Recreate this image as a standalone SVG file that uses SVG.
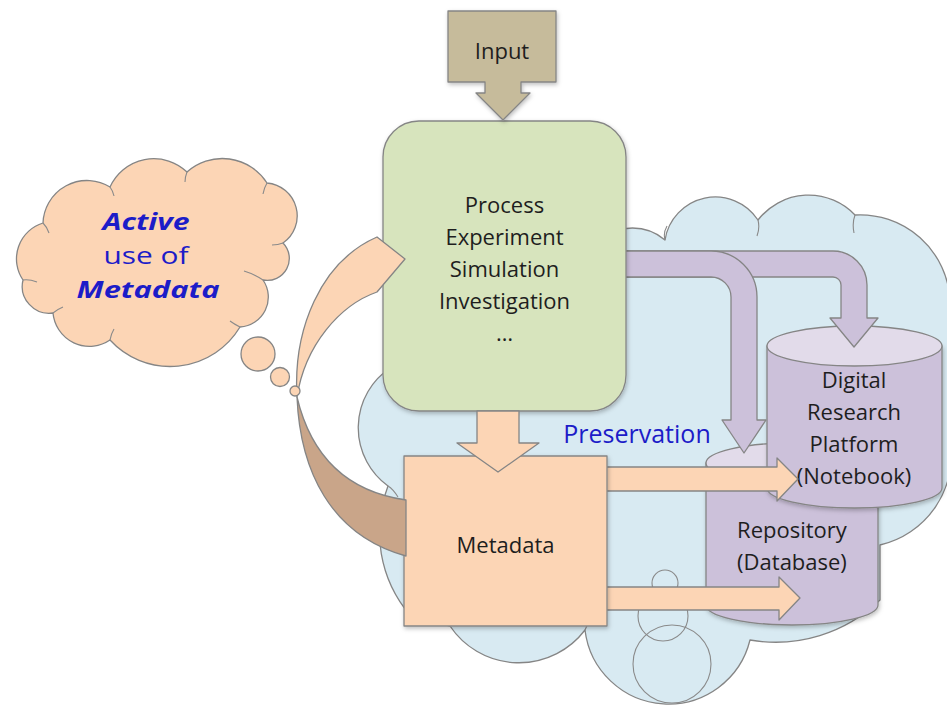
<svg xmlns="http://www.w3.org/2000/svg" width="947" height="707" viewBox="0 0 947 707">
<defs>
  <filter id="sh" x="-10%" y="-10%" width="130%" height="130%">
    <feDropShadow dx="1" dy="2" stdDeviation="2" flood-color="#000000" flood-opacity="0.25"/>
  </filter>
</defs>
<style>
  .ln { stroke:#858585; stroke-width:1.3; stroke-linejoin:round; }
  .thin { fill:none; stroke:#8a8a8a; stroke-width:1.1; }
  .t { font-family:"Open Sans","Liberation Sans",sans-serif; font-size:22px; fill:#1e1e1e; text-anchor:middle; }
  .blue { fill:#1c1cc8; }
  .peach { fill:#fcd5b5; }
  .purple { fill:#ccc1da; }
  .ptop { fill:#e2dbea; }
  .th { font-size:24px; }
  .bi { font-weight:bold; font-style:italic; }
</style>
<rect width="947" height="707" fill="#ffffff"/>

<g id="preservation-cloud">
  <path class="ln" fill="#d8eaf2" d="M 390,368 A 72 72 0 0 0 388,486 A 128 128 0 0 0 410,615 L 450,626 A 83 83 0 0 0 585,630 A 84 84 0 0 0 750,640 A 150 150 0 0 0 880,600 L 880,545 A 92 92 0 0 0 950,440 A 90 90 0 0 0 950,300 A 90 90 0 0 0 855,215 A 64 64 0 0 0 758,220 A 51 51 0 0 0 665,240 A 50 50 0 0 0 600,240 Z"/>
  <path class="thin" d="M 665,240 q -2,-7 2,-14 M 758,220 q 2,8 -1,16 M 855,215 q -3,8 -1,18 M 388,486 q 5,3 10,11 M 585,630 q 2,-6 6,-10"/>
  <text class="t blue" x="637" y="443" style="font-size:25px">Preservation</text>
</g>

<g id="circles" class="thin">
  <circle cx="665" cy="583" r="13"/>
  <circle cx="663" cy="616" r="25"/>
  <circle cx="672" cy="664" r="39"/>
</g>

<g id="repository">
  <path class="ln purple" filter="url(#sh)" d="M 706,463 L 706,605 A 86 20 0 0 0 878,605 L 878,463 Z"/>
  <ellipse class="ln ptop" cx="792" cy="463" rx="86" ry="20"/>
  <text class="t" x="792" y="538">Repository</text>
  <text class="t" x="792" y="570">(Database)</text>
</g>

<g id="digital-platform">
  <path class="ln purple" filter="url(#sh)" d="M 767,346 L 767,488 A 87.5 20 0 0 0 942,488 L 942,346 Z"/>
  <ellipse class="ln ptop" cx="854.5" cy="346" rx="87.5" ry="20"/>
  <text class="t" x="854" y="388">Digital</text>
  <text class="t" x="854" y="420">Research</text>
  <text class="t" x="854" y="452">Platform</text>
  <text class="t" x="854" y="484">(Notebook)</text>
</g>

<g id="connectors">
  <path class="ln purple" d="M 615,251 L 833,251 A 34 34 0 0 1 867,285 L 867,318 L 878,318 L 854,347 L 830,318 L 841,318 L 841,285 A 8 8 0 0 0 833,277 L 615,277 Z"/>
  <path class="ln purple" d="M 615,251 L 711,251 A 46 46 0 0 1 757,297 L 757,420 L 766,420 L 744,453 L 722,420 L 731,420 L 731,297 A 20 20 0 0 0 711,277 L 615,277 Z"/>
  <path class="ln peach" d="M 606,467 L 777,467 L 777,458 L 798,479 L 777,501 L 777,491 L 606,491 Z"/>
  <path class="ln peach" d="M 606,587 L 779,587 L 779,577 L 800,598 L 779,620 L 779,610 L 606,610 Z"/>
</g>

<g id="process">
  <rect class="ln" fill="#d7e4bd" filter="url(#sh)" x="383" y="121" width="243" height="290" rx="36" ry="36"/>
  <text class="t" x="504.5" y="213">Process</text>
  <text class="t" x="504.5" y="245">Experiment</text>
  <text class="t" x="504.5" y="277">Simulation</text>
  <text class="t" x="504.5" y="309">Investigation</text>
  <text class="t" x="504.5" y="341">…</text>
</g>

<g id="input">
  <path class="ln" fill="#c6bb9b" filter="url(#sh)" d="M 448,11 L 556,11 L 556,82 L 521,82 L 521,93 L 530,93 L 503,120 L 476,93 L 485,93 L 485,82 L 448,82 Z"/>
  <text class="t" x="502" y="59">Input</text>
</g>

<g id="metadata">
  <rect class="ln peach" filter="url(#sh)" x="404" y="456" width="203" height="170"/>
  <text class="t" x="505.5" y="553">Metadata</text>
</g>

<g id="process-to-metadata">
  <path class="ln peach" d="M 477,411 L 519,411 L 519,443 L 539,443 L 498,472 L 457,443 L 477,443 Z"/>
</g>

<g id="feedback-arrow">
  <path class="ln" fill="#c9a589" d="M 297,397 C 300,470 330,535 406,556 L 406,500 C 350,492 312,460 297,397 Z"/>
  <path class="ln peach" d="M 297,397 C 293,330 320,262 377,237 L 405,259 L 377,292 C 340,305 305,345 297,397 Z"/>
</g>

<g id="thought-cloud">
  <path class="ln peach" d="M 23,280 A 37.5 37.5 0 0 1 43,223 A 44 44 0 0 1 110,187 A 48 48 0 0 1 187,172 A 53 53 0 0 1 267,183 A 33 33 0 0 1 283,243 A 22 22 0 0 1 263,280 A 30 30 0 0 1 240,327 A 81.5 81.5 0 0 1 110,340 A 36.6 36.6 0 0 1 53,313 A 27 27 0 0 1 23,280 Z"/>
  <path class="thin" d="M 43,223 q 4,4 6,10 M 110,187 q 3,4 4,9 M 187,172 q -2,5 -2,10 M 267,183 q -3,5 -4,11 M 283,243 q -5,2 -11,2 M 263,280 q -9,-6 -19,-9 M 240,327 q -6,-3 -10,-6 M 110,340 q 1,-6 4,-11 M 53,313 q 5,-4 10,-6 M 23,280 q 6,-1 14,2"/>
  <circle class="ln peach" cx="258" cy="354" r="17"/>
  <circle class="ln peach" cx="280" cy="377" r="9.5"/>
  <circle class="ln peach" cx="295" cy="391" r="5"/>
  <text class="t blue th bi" x="146" y="230" textLength="87" lengthAdjust="spacingAndGlyphs">Active</text>
  <text class="t blue th" x="146" y="264" textLength="85" lengthAdjust="spacingAndGlyphs">use of</text>
  <text class="t blue th bi" x="148" y="298" textLength="143" lengthAdjust="spacingAndGlyphs">Metadata</text>
</g>
</svg>
